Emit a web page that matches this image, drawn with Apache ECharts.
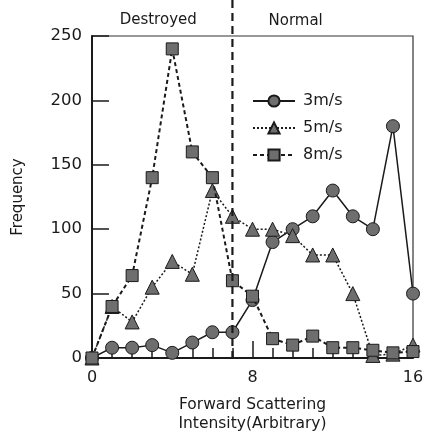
<!DOCTYPE html>
<html>
<head>
<meta charset="utf-8">
<script src="https://cdn.jsdelivr.net/npm/echarts@6/dist/echarts.min.js"></script>
<style>
  html, body { margin: 0; padding: 0; background: #ffffff; }
  #chart { width: 427px; height: 438px; }
</style>
</head>
<body>
<div id="chart"></div>
<script>
// Forward scattering intensity bins (arbitrary units)
const intensity = [0, 1, 2, 3, 4, 5, 6, 7, 8, 9, 10, 11, 12, 13, 14, 15, 16];
// Frequency counts per bin for each flow speed
const freq3 = [0, 8, 8, 10, 4, 12, 20, 20, 45, 90, 100, 110, 130, 110, 100, 180, 50];
const freq5 = [0, 40, 28, 55, 75, 65, 130, 110, 100, 100, 95, 80, 80, 50, 2, 3, 10];
const freq8 = [0, 40, 64, 140, 240, 160, 140, 60, 48, 15, 10, 17, 8, 8, 6, 4, 5];
const seriesNames = ['3m/s', '5m/s', '8m/s'];
const xTicks = [0, 8, 16];
const yTicks = [0, 50, 100, 150, 200, 250];
const boundary = 7; // split between destroyed and normal particles
const regionLabels = ['Destroyed', 'Normal'];

const FONT = '"DejaVu Sans", sans-serif';
const INK = '#1a1a1a';
const MARK = '#6e6e6e';

const chart = echarts.init(document.getElementById('chart'), null, { renderer: 'canvas' });

function pairs(ys) { return intensity.map((x, i) => [x, ys[i]]); }

function makeSeries(name, ys, symbol, size, lineType, width, z) {
  return {
    name: name,
    type: 'line',
    data: pairs(ys),
    symbol: symbol,
    symbolSize: size,
    showAllSymbol: true,
    z: z,
    lineStyle: { color: INK, width: width, type: lineType },
    itemStyle: { color: MARK, borderColor: INK, borderWidth: 1 },
    emphasis: { disabled: true },
    animation: false
  };
}

chart.setOption({
  animation: false,
  backgroundColor: '#ffffff',
  grid: {
    left: 92, right: 14, top: 36, bottom: 77,
    show: true, borderColor: '#333', borderWidth: 1.2, backgroundColor: 'transparent'
  },
  legend: {
    data: seriesNames,
    orient: 'vertical',
    left: 247, top: 88,
    itemWidth: 42, itemHeight: 14, itemGap: 11,
    textStyle: { fontFamily: FONT, fontSize: 16, color: INK, padding: [0, 0, 0, 3] },
    selectedMode: false
  },
  xAxis: {
    type: 'value', min: 0, max: 16, interval: 8,
    axisLine: { show: true, onZero: false, lineStyle: { color: INK, width: 2 } },
    axisTick: { show: true, inside: true, length: 17, lineStyle: { color: INK, width: 1.5 } },
    minorTick: { show: true, splitNumber: 8, length: 10, lineStyle: { color: INK, width: 1.5 } },
    splitLine: { show: false },
    axisLabel: {
      fontFamily: FONT, fontSize: 16, color: INK, margin: 12,
      formatter: v => (xTicks.includes(v) ? String(v) : '')
    },
    name: 'Forward Scattering\nIntensity(Arbitrary)',
    nameLocation: 'middle', nameGap: 37,
    nameTextStyle: { fontFamily: FONT, fontSize: 15.5, color: INK, lineHeight: 19 }
  },
  yAxis: {
    type: 'value', min: 0, max: 250, interval: 50,
    axisLine: { show: true, lineStyle: { color: INK, width: 2 } },
    axisTick: { show: true, inside: true, length: 17, lineStyle: { color: INK, width: 1.5 } },
    splitLine: { show: false },
    axisLabel: {
      fontFamily: FONT, fontSize: 16.5, color: INK, margin: 10,
      formatter: v => (yTicks.includes(v) ? String(v) : '')
    },
    name: 'Frequency',
    nameLocation: 'middle', nameGap: 66, nameRotate: 90,
    nameTextStyle: { fontFamily: FONT, fontSize: 15, color: INK }
  },
  series: [
    makeSeries(seriesNames[0], freq3, 'circle', 13, 'solid', 1.5, 2),
    makeSeries(seriesNames[1], freq5, 'triangle', 14, [2, 2], 1.5, 3),
    makeSeries(seriesNames[2], freq8, 'rect', 12, [4, 3], 2, 4)
  ]
});

// Dashed boundary line, running from the top edge down to the x axis
const bx = chart.convertToPixel({ xAxisIndex: 0 }, boundary);
const y0 = chart.convertToPixel({ yAxisIndex: 0 }, 0);
chart.setOption({
  graphic: [
    {
      type: 'line', z: 10,
      shape: { x1: bx, y1: 0, x2: bx, y2: y0 },
      style: { stroke: INK, lineWidth: 2.2, lineDash: [8, 5] }
    },
    {
      type: 'text', z: 10,
      x: chart.convertToPixel({ xAxisIndex: 0 }, 3.3), y: 20,
      style: { text: regionLabels[0], fontFamily: FONT, fontSize: 15, fill: INK, align: 'center', verticalAlign: 'middle' }
    },
    {
      type: 'text', z: 10,
      x: chart.convertToPixel({ xAxisIndex: 0 }, 10.15), y: 21,
      style: { text: regionLabels[1], fontFamily: FONT, fontSize: 15, fill: INK, align: 'center', verticalAlign: 'middle' }
    }
  ]
});
</script>
</body>
</html>
